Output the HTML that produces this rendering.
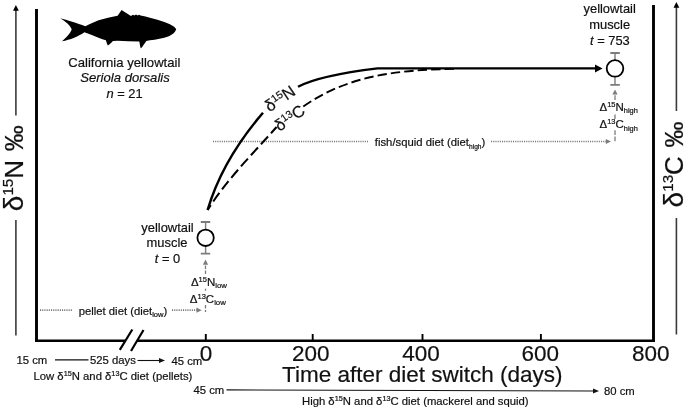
<!DOCTYPE html>
<html><head><meta charset="utf-8">
<style>
html,body{margin:0;padding:0;background:#fff;}
svg{display:block;}
text{font-family:"Liberation Sans",Arial,sans-serif;fill:#111;stroke:#111;stroke-width:0.2px;}
.m{font-size:12.9px;text-anchor:middle;}
.s{font-size:11.3px;}
.g{stroke:#8a8a8a;fill:none;}
</style></head><body>
<svg width="685" height="410" viewBox="0 0 685 410">
<rect width="685" height="410" fill="#fff"/>
<!-- axes -->
<path d="M36.5 9 V342 M653.5 5 V342" fill="none" stroke="#000" stroke-width="2.9"/>
<path d="M35 340.8 H125.5 M137 340.8 H655" fill="none" stroke="#000" stroke-width="2.4"/>
<!-- ticks -->
<g stroke="#000" stroke-width="1.9">
<line x1="205.8" y1="334" x2="205.8" y2="341"/>
<line x1="312.7" y1="334" x2="312.7" y2="341"/>
<line x1="422.5" y1="334" x2="422.5" y2="341"/>
<line x1="540.9" y1="334" x2="540.9" y2="341"/>
</g>
<!-- axis break -->
<g stroke="#000" stroke-width="2.2">
<line x1="119.8" y1="349.8" x2="132.3" y2="329.5"/>
<line x1="131" y1="351" x2="143.5" y2="330"/>
</g>
<!-- tick labels -->
<g font-size="22.5" text-anchor="middle">
<text x="206" y="361">0</text>
<text x="310.7" y="361">200</text>
<text x="421" y="361">400</text>
<text x="540.3" y="361">600</text>
<text x="650.8" y="361">800</text>
</g>
<text x="282" y="382.3" font-size="22.5">Time after diet switch (days)</text>
<!-- left axis label -->
<line x1="15.9" y1="10" x2="15.9" y2="115.5" stroke="#3a3a3a" stroke-width="1.6"/>
<path d="M15.9 5 L13 10.8 H18.8 Z" fill="#000"/>
<line x1="15.9" y1="220" x2="15.9" y2="335.5" stroke="#3a3a3a" stroke-width="1.6"/>
<text transform="translate(22.5 211.2) rotate(-90)" font-size="26" word-spacing="1.5"><tspan font-size="28">δ</tspan><tspan font-size="15.2" dy="-9.5">15</tspan><tspan dy="9.5">N ‰</tspan></text>
<!-- right axis label -->
<line x1="676.4" y1="7" x2="676.4" y2="111" stroke="#3a3a3a" stroke-width="1.6"/>
<path d="M676.4 2 L673.5 7.7 H679.3 Z" fill="#000"/>
<line x1="676.4" y1="218" x2="676.4" y2="334.5" stroke="#3a3a3a" stroke-width="1.6"/>
<text transform="translate(682.8 207.4) rotate(-90)" font-size="26" word-spacing="1.5"><tspan font-size="28">δ</tspan><tspan font-size="15.2" dy="-9.5">13</tspan><tspan dy="9.5">C ‰</tspan></text>
<!-- fish -->
<path id="fish" d="M60.3 18.2 C67 20 77 23 85.4 26.2 C89 24.5 94 22 98.6 20.3 C105 18.5 111 17 117.6 15.8 L121.6 10 C124.5 12 128 14.2 130.9 16 L133 14.8 L134.5 15.4 L136 14.6 L137.5 15.4 L139 14.8 L140.6 15.6 C144 16.2 147 17 149.9 17.8 C155 19 160 20.5 165 22.2 C170 24 175 26.5 176.2 29.2 C175.5 32 172.5 34.5 168.9 36.3 C163 38.5 156 39.7 149.9 40.3 L146.3 41 C144.5 43.5 143 46 140.8 48.5 C140 46 139.6 43.5 139.4 41.5 C132 41.5 125 41.2 117.6 40.8 L112.9 41 C111.5 42.5 110 44 107.8 45.6 C107 43.8 106.4 42 105.9 40.2 C101 38.8 97 37.2 93 35.4 C90 34.2 87 33 84.4 32.2 C79 36 70 40 62 41.2 C66.5 37.5 70.5 33 71.7 29.3 C70.5 25.5 65.5 21.5 60.3 18.2 Z" fill="#000"/>
<text class="m" x="124.3" y="66.6" style="font-size:13.1px">California yellowtail</text>
<text class="m" x="125" y="82" font-style="italic" style="font-size:13.1px">Seriola dorsalis</text>
<text class="m" x="124.5" y="97.8"><tspan font-style="italic">n</tspan> = 21</text>
<!-- dotted diet lines -->
<g stroke="#777" fill="none" stroke-width="1.7" stroke-dasharray="1.1 1.1">
<line x1="40" y1="310.2" x2="73" y2="310.2"/>
<line x1="172" y1="310.2" x2="197" y2="310.2"/>
<line x1="213" y1="141.5" x2="368" y2="141.5"/>
<line x1="491" y1="141.5" x2="606" y2="141.5"/>
</g>
<path d="M196.5 307.6 L201.7 310.2 L196.5 312.8 Z" fill="#7c7c7c"/>
<path d="M605.8 138.9 L611 141.5 L605.8 144.1 Z" fill="#7c7c7c"/>
<text class="s" x="78.7" y="314.6">pellet diet (diet<tspan font-size="7.6" dy="2.5">low</tspan><tspan dy="-2.5">)</tspan></text>
<text class="s" x="374.8" y="146.3">fish/squid diet (diet<tspan font-size="6.6" dy="2.6">high</tspan><tspan dy="-2.6">)</tspan></text>
<!-- vertical dashed gray -->
<g stroke="#7c7c7c" fill="none" stroke-width="1.3">
<g stroke-dasharray="3.6 1.3">
<line x1="205.5" y1="265.5" x2="205.5" y2="275"/>
<line x1="205.5" y1="288.7" x2="205.5" y2="290.7"/>
<line x1="205.5" y1="305" x2="205.5" y2="312"/>
</g>
<g stroke-dasharray="4.7 1.6">
<line x1="615" y1="95.3" x2="615" y2="101"/>
<line x1="615" y1="114.4" x2="615" y2="119.1"/>
<line x1="615" y1="130.2" x2="615" y2="141.4"/>
</g>
</g>
<path d="M205.5 259.6 L202.9 264.8 H208.1 Z" fill="#7c7c7c"/>
<path d="M615 89.6 L612.4 94.6 H617.6 Z" fill="#7c7c7c"/>
<text class="s" font-size="11.5" x="190.9" y="285.8" style="font-size:11.5px">Δ<tspan font-size="7.5" dy="-4">15</tspan><tspan dy="4">N</tspan><tspan font-size="7.8" dy="2.4">low</tspan></text>
<text x="189.8" y="302.7" style="font-size:11.5px">Δ<tspan font-size="7.5" dy="-4">13</tspan><tspan dy="4">C</tspan><tspan font-size="7.8" dy="2.4">low</tspan></text>
<text x="599.5" y="110.7" style="font-size:11.5px">Δ<tspan font-size="7.5" dy="-4">15</tspan><tspan dy="4">N</tspan><tspan font-size="7.4" dy="2.6">high</tspan></text>
<text x="599.5" y="128" style="font-size:11.5px">Δ<tspan font-size="7.5" dy="-4">13</tspan><tspan dy="4">C</tspan><tspan font-size="7.4" dy="2.6">high</tspan></text>
<!-- error bars + circles -->
<g stroke="#7c7c7c" stroke-width="1.8" fill="none">
<path d="M200.8 222 H210.2 M200.8 253.6 H210.2 M610.3 53 H619.8 M610.3 84.8 H619.8"/>
<path d="M205.6 222 V253.6 M615 53 V84.8" stroke-width="1.4"/>
</g>
<circle cx="205.6" cy="237.8" r="8.2" fill="#fff" stroke="#000" stroke-width="1.8"/>
<circle cx="615" cy="68.4" r="8.3" fill="#fff" stroke="#000" stroke-width="1.8"/>
<text class="m" x="167.5" y="231.7">yellowtail</text>
<text class="m" x="167" y="247.2">muscle</text>
<text class="m" x="167.5" y="263"><tspan font-style="italic">t</tspan> = 0</text>
<text class="m" x="609.7" y="13.3">yellowtail</text>
<text class="m" x="609.7" y="28.8">muscle</text>
<text class="m" x="609.9" y="45.1"><tspan font-style="italic">t</tspan> = 753</text>
<!-- curves -->
<path d="M207.6 210 C218.4 173.3 238.2 141.6 263 112.7" fill="none" stroke="#000" stroke-width="2.5"/>
<path d="M298 86.8 C312 79.3 335 73.6 377.6 68.4 H596" fill="none" stroke="#000" stroke-width="2.4"/>
<path d="M595 64.6 L602.6 68.5 L595 72.4 Z" fill="#000"/>
<path d="M207.6 210 C226.8 179.7 252.8 153.6 276.6 127" fill="none" stroke="#000" stroke-width="2" stroke-dasharray="10.5 4.4" stroke-dashoffset="4.7"/>
<path d="M303.3 106.5 C348 75.2 398 69.6 458 68.8" fill="none" stroke="#000" stroke-width="1.9" stroke-dasharray="9.4 4.1"/>
<text transform="translate(269.5 112.5) rotate(-34)" font-size="16.5">δ<tspan font-size="10.5" dy="-5.5">15</tspan><tspan dy="5.5">N</tspan></text>
<text transform="translate(279.5 132) rotate(-35)" font-size="16.5">δ<tspan font-size="10.5" dy="-5.5">13</tspan><tspan dy="5.5">C</tspan></text>
<!-- bottom annotations -->
<g class="s">
<text x="16.5" y="364.2">15 cm</text>
<text x="90" y="364.4">525 days</text>
<text x="171.5" y="364.8">45 cm</text>
<text x="33.5" y="379.5">Low δ<tspan font-size="7.3" dy="-3.8">15</tspan><tspan dy="3.8">N and δ</tspan><tspan font-size="7.3" dy="-3.8">13</tspan><tspan dy="3.8">C diet (pellets)</tspan></text>
<text x="193.5" y="394">45 cm</text>
<text x="604" y="395">80 cm</text>
<text x="302" y="404.7">High δ<tspan font-size="7.3" dy="-3.8">15</tspan><tspan dy="3.8">N and δ</tspan><tspan font-size="7.3" dy="-3.8">13</tspan><tspan dy="3.8">C diet (mackerel and squid)</tspan></text>
</g>
<g stroke="#111" stroke-width="1.1">
<line x1="55" y1="359.9" x2="88.5" y2="359.9"/>
<line x1="137.5" y1="360.5" x2="160" y2="360.5"/>
<line x1="226.5" y1="389.9" x2="594" y2="391"/>
</g>
<path d="M159 358 L165 360.5 L159 363 Z" fill="#111"/>
<path d="M593 388.6 L599 391.1 L593 393.6 Z" fill="#111"/>
</svg>
</body></html>
